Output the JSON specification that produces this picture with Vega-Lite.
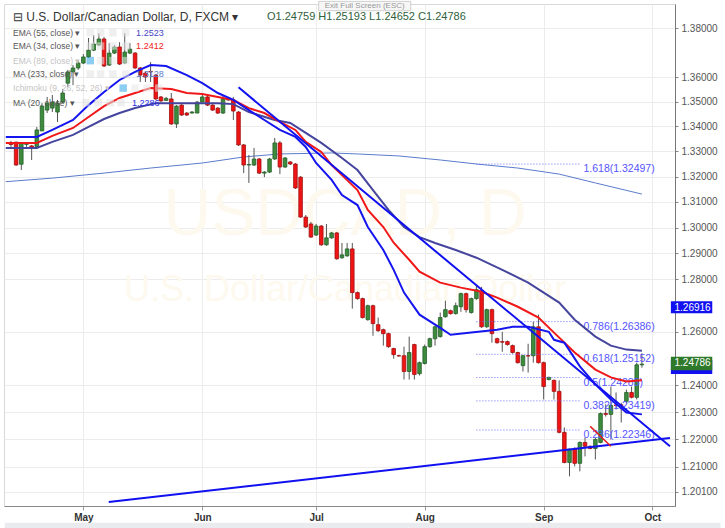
{
"$schema": "https://vega.github.io/schema/vega-lite/v6.json",
"width": 671, "height": 502,
"autosize": {"type": "none"},
"padding": {"left": 4, "top": 4, "right": 50, "bottom": 22},
"background": "#ffffff",
"config": {"view": {"stroke": "#d8d8d8"}, "font": "Liberation Sans"},
"datasets": {
"candles": [
{"i":-14,"o":1.3330,"h":1.3342,"l":1.3318,"c":1.3328},
{"i":-13,"o":1.3337,"h":1.3339,"l":1.3243,"c":1.3246},
{"i":-12,"o":1.3249,"h":1.3334,"l":1.3226,"c":1.3333},
{"i":-11,"o":1.3328,"h":1.3338,"l":1.3318,"c":1.3332},
{"i":-10,"o":1.3322,"h":1.3326,"l":1.3266,"c":1.3316},
{"i":-9,"o":1.3319,"h":1.3398,"l":1.3318,"c":1.3386},
{"i":-8,"o":1.3382,"h":1.3494,"l":1.3382,"c":1.3482},
{"i":-7,"o":1.3466,"h":1.3519,"l":1.3454,"c":1.3494},
{"i":-6,"o":1.3474,"h":1.3527,"l":1.3458,"c":1.3498},
{"i":-5,"o":1.3458,"h":1.3507,"l":1.3418,"c":1.3494},
{"i":-4,"o":1.3498,"h":1.3551,"l":1.3494,"c":1.3535},
{"i":-3,"o":1.3575,"h":1.3629,"l":1.3559,"c":1.3621},
{"i":-2,"o":1.3621,"h":1.3649,"l":1.3567,"c":1.3637},
{"i":-1,"o":1.3637,"h":1.3670,"l":1.3629,"c":1.3657},
{"i":0,"o":1.3657,"h":1.3694,"l":1.3653,"c":1.3682},
{"i":1,"o":1.3682,"h":1.3760,"l":1.3678,"c":1.3710},
{"i":2,"o":1.3710,"h":1.3772,"l":1.3706,"c":1.3735},
{"i":3,"o":1.3731,"h":1.3780,"l":1.3727,"c":1.3756},
{"i":4,"o":1.3756,"h":1.3764,"l":1.3641,"c":1.3645},
{"i":5,"o":1.3649,"h":1.3739,"l":1.3645,"c":1.3698},
{"i":6,"o":1.3698,"h":1.3731,"l":1.3694,"c":1.3723},
{"i":7,"o":1.3723,"h":1.3743,"l":1.3649,"c":1.3653},
{"i":8,"o":1.3657,"h":1.3780,"l":1.3653,"c":1.3702},
{"i":9,"o":1.3698,"h":1.3739,"l":1.3694,"c":1.3714},
{"i":10,"o":1.3698,"h":1.3702,"l":1.3633,"c":1.3637},
{"i":11,"o":1.3637,"h":1.3641,"l":1.3580,"c":1.3608},
{"i":12,"o":1.3616,"h":1.3621,"l":1.3580,"c":1.3600},
{"i":13,"o":1.3623,"h":1.3661,"l":1.3580,"c":1.3621},
{"i":14,"o":1.3608,"h":1.3612,"l":1.3507,"c":1.3511},
{"i":15,"o":1.3519,"h":1.3523,"l":1.3498,"c":1.3503},
{"i":16,"o":1.3505,"h":1.3519,"l":1.3503,"c":1.3513},
{"i":17,"o":1.3511,"h":1.3535,"l":1.3406,"c":1.3410},
{"i":18,"o":1.3410,"h":1.3486,"l":1.3394,"c":1.3482},
{"i":19,"o":1.3486,"h":1.3490,"l":1.3442,"c":1.3446},
{"i":20,"o":1.3454,"h":1.3458,"l":1.3442,"c":1.3446},
{"i":21,"o":1.3454,"h":1.3462,"l":1.3452,"c":1.3458},
{"i":22,"o":1.3454,"h":1.3503,"l":1.3454,"c":1.3498},
{"i":23,"o":1.3498,"h":1.3535,"l":1.3496,"c":1.3519},
{"i":24,"o":1.3519,"h":1.3523,"l":1.3482,"c":1.3486},
{"i":25,"o":1.3486,"h":1.3490,"l":1.3462,"c":1.3466},
{"i":26,"o":1.3474,"h":1.3478,"l":1.3450,"c":1.3454},
{"i":27,"o":1.3454,"h":1.3527,"l":1.3450,"c":1.3511},
{"i":28,"o":1.3515,"h":1.3519,"l":1.3503,"c":1.3507},
{"i":29,"o":1.3507,"h":1.3519,"l":1.3426,"c":1.3462},
{"i":30,"o":1.3458,"h":1.3462,"l":1.3322,"c":1.3326},
{"i":31,"o":1.3326,"h":1.3330,"l":1.3214,"c":1.3246},
{"i":32,"o":1.3246,"h":1.3286,"l":1.3175,"c":1.3248},
{"i":33,"o":1.3246,"h":1.3314,"l":1.3242,"c":1.3270},
{"i":34,"o":1.3270,"h":1.3274,"l":1.3210,"c":1.3214},
{"i":35,"o":1.3214,"h":1.3222,"l":1.3198,"c":1.3218},
{"i":36,"o":1.3218,"h":1.3274,"l":1.3214,"c":1.3270},
{"i":37,"o":1.3270,"h":1.3354,"l":1.3266,"c":1.3334},
{"i":38,"o":1.3334,"h":1.3342,"l":1.3210,"c":1.3238},
{"i":39,"o":1.3238,"h":1.3278,"l":1.3234,"c":1.3274},
{"i":40,"o":1.3258,"h":1.3262,"l":1.3246,"c":1.3250},
{"i":41,"o":1.3250,"h":1.3254,"l":1.3151,"c":1.3155},
{"i":42,"o":1.3198,"h":1.3202,"l":1.3038,"c":1.3041},
{"i":43,"o":1.3041,"h":1.3049,"l":1.2999,"c":1.3002},
{"i":44,"o":1.3014,"h":1.3022,"l":1.2960,"c":1.2963},
{"i":45,"o":1.2971,"h":1.3014,"l":1.2967,"c":1.3006},
{"i":46,"o":1.3006,"h":1.3010,"l":1.2929,"c":1.2933},
{"i":47,"o":1.2933,"h":1.3014,"l":1.2929,"c":1.2960},
{"i":48,"o":1.2960,"h":1.2983,"l":1.2956,"c":1.2979},
{"i":49,"o":1.2979,"h":1.2983,"l":1.2875,"c":1.2879},
{"i":50,"o":1.2883,"h":1.2940,"l":1.2879,"c":1.2894},
{"i":51,"o":1.2890,"h":1.2940,"l":1.2887,"c":1.2917},
{"i":52,"o":1.2917,"h":1.2940,"l":1.2688,"c":1.2749},
{"i":53,"o":1.2749,"h":1.2753,"l":1.2722,"c":1.2726},
{"i":54,"o":1.2726,"h":1.2730,"l":1.2650,"c":1.2654},
{"i":55,"o":1.2646,"h":1.2703,"l":1.2642,"c":1.2699},
{"i":56,"o":1.2699,"h":1.2703,"l":1.2585,"c":1.2631},
{"i":57,"o":1.2627,"h":1.2654,"l":1.2600,"c":1.2604},
{"i":58,"o":1.2608,"h":1.2612,"l":1.2548,"c":1.2593},
{"i":59,"o":1.2593,"h":1.2597,"l":1.2540,"c":1.2544},
{"i":60,"o":1.2537,"h":1.2540,"l":1.2499,"c":1.2514},
{"i":61,"o":1.2510,"h":1.2514,"l":1.2507,"c":1.2509},
{"i":62,"o":1.2510,"h":1.2544,"l":1.2421,"c":1.2451},
{"i":63,"o":1.2451,"h":1.2582,"l":1.2421,"c":1.2522},
{"i":64,"o":1.2552,"h":1.2555,"l":1.2421,"c":1.2440},
{"i":65,"o":1.2443,"h":1.2488,"l":1.2436,"c":1.2484},
{"i":66,"o":1.2481,"h":1.2552,"l":1.2477,"c":1.2544},
{"i":67,"o":1.2544,"h":1.2578,"l":1.2540,"c":1.2574},
{"i":68,"o":1.2574,"h":1.2623,"l":1.2548,"c":1.2619},
{"i":69,"o":1.2582,"h":1.2673,"l":1.2578,"c":1.2654},
{"i":70,"o":1.2657,"h":1.2718,"l":1.2654,"c":1.2684},
{"i":71,"o":1.2680,"h":1.2684,"l":1.2665,"c":1.2669},
{"i":72,"o":1.2669,"h":1.2711,"l":1.2665,"c":1.2699},
{"i":73,"o":1.2695,"h":1.2749,"l":1.2676,"c":1.2745},
{"i":74,"o":1.2745,"h":1.2749,"l":1.2673,"c":1.2684},
{"i":75,"o":1.2673,"h":1.2730,"l":1.2669,"c":1.2726},
{"i":76,"o":1.2726,"h":1.2779,"l":1.2722,"c":1.2760},
{"i":77,"o":1.2756,"h":1.2771,"l":1.2615,"c":1.2619},
{"i":78,"o":1.2619,"h":1.2688,"l":1.2615,"c":1.2684},
{"i":79,"o":1.2684,"h":1.2688,"l":1.2559,"c":1.2593},
{"i":80,"o":1.2574,"h":1.2578,"l":1.2555,"c":1.2559},
{"i":81,"o":1.2563,"h":1.2600,"l":1.2525,"c":1.2561},
{"i":82,"o":1.2563,"h":1.2567,"l":1.2548,"c":1.2552},
{"i":83,"o":1.2548,"h":1.2552,"l":1.2518,"c":1.2522},
{"i":84,"o":1.2522,"h":1.2525,"l":1.2481,"c":1.2484},
{"i":85,"o":1.2473,"h":1.2514,"l":1.2451,"c":1.2510},
{"i":86,"o":1.2510,"h":1.2555,"l":1.2447,"c":1.2509},
{"i":87,"o":1.2510,"h":1.2638,"l":1.2484,"c":1.2619},
{"i":88,"o":1.2619,"h":1.2665,"l":1.2481,"c":1.2484},
{"i":89,"o":1.2484,"h":1.2488,"l":1.2347,"c":1.2395},
{"i":90,"o":1.2421,"h":1.2432,"l":1.2418,"c":1.2429},
{"i":91,"o":1.2418,"h":1.2421,"l":1.2347,"c":1.2377},
{"i":92,"o":1.2377,"h":1.2418,"l":1.2222,"c":1.2226},
{"i":93,"o":1.2226,"h":1.2244,"l":1.2113,"c":1.2116},
{"i":94,"o":1.2116,"h":1.2167,"l":1.2066,"c":1.2164},
{"i":95,"o":1.2167,"h":1.2171,"l":1.2102,"c":1.2113},
{"i":96,"o":1.2113,"h":1.2193,"l":1.2084,"c":1.2189},
{"i":97,"o":1.2189,"h":1.2207,"l":1.2138,"c":1.2175},
{"i":98,"o":1.2175,"h":1.2178,"l":1.2164,"c":1.2167},
{"i":99,"o":1.2167,"h":1.2207,"l":1.2127,"c":1.2200},
{"i":100,"o":1.2189,"h":1.2299,"l":1.2186,"c":1.2295},
{"i":101,"o":1.2295,"h":1.2329,"l":1.2284,"c":1.2292},
{"i":102,"o":1.2292,"h":1.2395,"l":1.2200,"c":1.2325},
{"i":103,"o":1.2327,"h":1.2373,"l":1.2310,"c":1.2325},
{"i":104,"o":1.2327,"h":1.2335,"l":1.2262,"c":1.2325},
{"i":105,"o":1.2340,"h":1.2384,"l":1.2332,"c":1.2373},
{"i":106,"o":1.2373,"h":1.2395,"l":1.2351,"c":1.2355},
{"i":107,"o":1.2355,"h":1.2484,"l":1.2347,"c":1.2476},
{"i":108,"o":1.24759,"h":1.25193,"l":1.24652,"c":1.24786}
],
"ind": [
{"s":"ma233","i":-15,"p":1.3180},{"s":"ma233","i":-6,"p":1.3194},{"s":"ma233","i":4,"p":1.3214},{"s":"ma233","i":13,"p":1.3234},{"s":"ma233","i":23,"p":1.3254},{"s":"ma233","i":31,"p":1.3278},{"s":"ma233","i":38,"p":1.3290},{"s":"ma233","i":48,"p":1.3294},{"s":"ma233","i":53,"p":1.3290},{"s":"ma233","i":61,"p":1.3282},{"s":"ma233","i":69,"p":1.3266},{"s":"ma233","i":76,"p":1.3250},{"s":"ma233","i":84,"p":1.3234},{"s":"ma233","i":92,"p":1.3210},{"s":"ma233","i":99,"p":1.3175},{"s":"ma233","i":108,"p":1.3131},
{"s":"ema55","i":-15,"p":1.3314},{"s":"ema55","i":-9,"p":1.3314},{"s":"ema55","i":-6,"p":1.3338},{"s":"ema55","i":-2,"p":1.3366},{"s":"ema55","i":1,"p":1.3398},{"s":"ema55","i":4,"p":1.3430},{"s":"ema55","i":7,"p":1.3454},{"s":"ema55","i":10,"p":1.3474},{"s":"ema55","i":14,"p":1.3494},{"s":"ema55","i":20,"p":1.3494},{"s":"ema55","i":26,"p":1.3494},{"s":"ema55","i":29,"p":1.3490},{"s":"ema55","i":32,"p":1.3458},{"s":"ema55","i":37,"p":1.3426},{"s":"ema55","i":40,"p":1.3414},{"s":"ema55","i":43,"p":1.3374},{"s":"ema55","i":46,"p":1.3334},{"s":"ema55","i":50,"p":1.3274},{"s":"ema55","i":53,"p":1.3226},{"s":"ema55","i":56,"p":1.3147},{"s":"ema55","i":59,"p":1.3069},{"s":"ema55","i":62,"p":1.3002},{"s":"ema55","i":65,"p":1.2963},{"s":"ema55","i":68,"p":1.2940},{"s":"ema55","i":72,"p":1.2913},{"s":"ema55","i":76,"p":1.2883},{"s":"ema55","i":81,"p":1.2836},{"s":"ema55","i":86,"p":1.2787},{"s":"ema55","i":92,"p":1.2711},{"s":"ema55","i":95,"p":1.2646},{"s":"ema55","i":99,"p":1.2582},{"s":"ema55","i":102,"p":1.2548},{"s":"ema55","i":105,"p":1.2533},{"s":"ema55","i":108,"p":1.2529},
{"s":"ema34","i":-15,"p":1.3334},{"s":"ema34","i":-9,"p":1.3334},{"s":"ema34","i":-6,"p":1.3362},{"s":"ema34","i":-2,"p":1.3394},{"s":"ema34","i":1,"p":1.3438},{"s":"ema34","i":4,"p":1.3482},{"s":"ema34","i":7,"p":1.3515},{"s":"ema34","i":10,"p":1.3535},{"s":"ema34","i":13,"p":1.3555},{"s":"ema34","i":17,"p":1.3551},{"s":"ema34","i":20,"p":1.3535},{"s":"ema34","i":23,"p":1.3531},{"s":"ema34","i":26,"p":1.3519},{"s":"ema34","i":29,"p":1.3507},{"s":"ema34","i":32,"p":1.3474},{"s":"ema34","i":35,"p":1.3454},{"s":"ema34","i":38,"p":1.3418},{"s":"ema34","i":41,"p":1.3386},{"s":"ema34","i":43,"p":1.3338},{"s":"ema34","i":46,"p":1.3298},{"s":"ema34","i":48,"p":1.3246},{"s":"ema34","i":50,"p":1.3206},{"s":"ema34","i":53,"p":1.3147},{"s":"ema34","i":55,"p":1.3069},{"s":"ema34","i":58,"p":1.3002},{"s":"ema34","i":60,"p":1.2941},{"s":"ema34","i":63,"p":1.2875},{"s":"ema34","i":65,"p":1.2829},{"s":"ema34","i":69,"p":1.2787},{"s":"ema34","i":73,"p":1.2768},{"s":"ema34","i":77,"p":1.2752},{"s":"ema34","i":80,"p":1.2730},{"s":"ema34","i":84,"p":1.2695},{"s":"ema34","i":88,"p":1.2654},{"s":"ema34","i":91,"p":1.2597},{"s":"ema34","i":95,"p":1.2522},{"s":"ema34","i":99,"p":1.2458},{"s":"ema34","i":102,"p":1.2429},{"s":"ema34","i":105,"p":1.2414},{"s":"ema34","i":108,"p":1.2418},
{"s":"ma20","i":-15,"p":1.3358},{"s":"ma20","i":-9,"p":1.3358},{"s":"ma20","i":-6,"p":1.3386},{"s":"ma20","i":-2,"p":1.3426},{"s":"ma20","i":1,"p":1.3486},{"s":"ma20","i":4,"p":1.3539},{"s":"ma20","i":7,"p":1.3588},{"s":"ma20","i":10,"p":1.3621},{"s":"ma20","i":13,"p":1.3649},{"s":"ma20","i":16,"p":1.3645},{"s":"ma20","i":20,"p":1.3608},{"s":"ma20","i":23,"p":1.3575},{"s":"ma20","i":26,"p":1.3535},{"s":"ma20","i":29,"p":1.3507},{"s":"ma20","i":32,"p":1.3466},{"s":"ma20","i":35,"p":1.3426},{"s":"ma20","i":38,"p":1.3386},{"s":"ma20","i":41,"p":1.3358},{"s":"ma20","i":43,"p":1.3318},{"s":"ma20","i":45,"p":1.3254},{"s":"ma20","i":48,"p":1.3187},{"s":"ma20","i":50,"p":1.3127},{"s":"ma20","i":53,"p":1.3088},{"s":"ma20","i":55,"p":1.3002},{"s":"ma20","i":58,"p":1.2913},{"s":"ma20","i":60,"p":1.2836},{"s":"ma20","i":62,"p":1.2749},{"s":"ma20","i":65,"p":1.2665},{"s":"ma20","i":69,"p":1.2615},{"s":"ma20","i":71,"p":1.2589},{"s":"ma20","i":75,"p":1.2597},{"s":"ma20","i":80,"p":1.2608},{"s":"ma20","i":83,"p":1.2619},{"s":"ma20","i":86,"p":1.2619},{"s":"ma20","i":90,"p":1.2600},{"s":"ma20","i":91,"p":1.2570},{"s":"ma20","i":93,"p":1.2559},{"s":"ma20","i":96,"p":1.2470},{"s":"ma20","i":99,"p":1.2403},{"s":"ma20","i":102,"p":1.2347},{"s":"ma20","i":105,"p":1.2299},{"s":"ma20","i":108,"p":1.2292}
],
"trend": [
{"t":"down","i":30,"p":1.3558},{"t":"down","i":113.43,"p":1.2175},
{"t":"up","i":4.9,"p":1.1973},{"t":"up","i":113.43,"p":1.2205},
{"t":"red","i":98,"p":1.2248},{"t":"red","i":102,"p":1.2175}
],
"fib": [
{"lbl":"1.618(1.32497)","p":1.32497},
{"lbl":"0.786(1.26386)","p":1.26386},
{"lbl":"0.618(1.25152)","p":1.25152},
{"lbl":"0.5(1.24285)","p":1.24285},
{"lbl":"0.382(1.23419)","p":1.23419},
{"lbl":"0.236(1.22346)","p":1.22346}
],
"legend": [
{"t":"EMA (55, close) ▾","p":1.3782,"c":"#555555"},
{"t":"EMA (34, close) ▾","p":1.3727,"c":"#555555"},
{"t":"EMA (89, close) ▾","p":1.3667,"c":"#c4c4c4"},
{"t":"MA (233, close) ▾","p":1.3612,"c":"#555555"},
{"t":"Ichimoku (9, 26, 52, 26) ▾","p":1.3555,"c":"#c4c4c4"},
{"t":"MA (20, close) ▾","p":1.3496,"c":"#555555"}
],
"icons": [
{"i":1.33,"p":1.3782,"c":"#e2e2e2"},{"i":3.33,"p":1.3782,"c":"#e2e2e2"},{"i":5.71,"p":1.3782,"c":"#e2e2e2"},{"i":8.19,"p":1.3782,"c":"#e2e2e2"},
{"i":1.33,"p":1.3727,"c":"#e2e2e2"},{"i":3.33,"p":1.3727,"c":"#e2e2e2"},{"i":5.71,"p":1.3727,"c":"#e2e2e2"},{"i":8.19,"p":1.3727,"c":"#e2e2e2"},
{"i":1.33,"p":1.3667,"c":"#2fa4e7"},{"i":3.33,"p":1.3667,"c":"#e8e8e8"},{"i":5.71,"p":1.3667,"c":"#e8e8e8"},{"i":8.19,"p":1.3667,"c":"#e8e8e8"},
{"i":1.33,"p":1.3612,"c":"#e2e2e2"},{"i":3.33,"p":1.3612,"c":"#e2e2e2"},{"i":5.71,"p":1.3612,"c":"#e2e2e2"},{"i":8.19,"p":1.3612,"c":"#e2e2e2"},
{"i":7.7,"p":1.3555,"c":"#2fa4e7"},{"i":10.0,"p":1.3555,"c":"#e8e8e8"},{"i":12.3,"p":1.3555,"c":"#e8e8e8"},{"i":14.6,"p":1.3555,"c":"#e8e8e8"},
{"i":0.5,"p":1.3496,"c":"#e2e2e2"},{"i":2.9,"p":1.3496,"c":"#e2e2e2"},{"i":5.2,"p":1.3496,"c":"#e2e2e2"},{"i":7.3,"p":1.3496,"c":"#e2e2e2"}
],
"vals": [
{"t":"1.2523","i":10.2,"p":1.3782,"c":"#4646c8"},
{"t":"1.2412","i":10.2,"p":1.3727,"c":"#f01818"},
{"t":"1.3128","i":10.2,"p":1.3612,"c":"#5b7ccc"},
{"t":"1.2286","i":9.4,"p":1.3496,"c":"#2a2ae0"}
]
},
"encoding": {
"x": {"type": "quantitative", "scale": {"domain": [-14.38, 113.43], "nice": false, "zero": false},
  "axis": {"title": null, "values": [0, 23, 45, 66, 89, 110], "grid": true, "gridColor": "#ececec",
    "labelExpr": "datum.value == 0 ? 'May' : datum.value == 23 ? 'Jun' : datum.value == 45 ? 'Jul' : datum.value == 66 ? 'Aug' : datum.value == 89 ? 'Sep' : 'Oct'",
    "labelFontSize": 10, "labelFontWeight": "bold", "labelColor": "#333333", "tickSize": 4, "tickColor": "#999999", "domainColor": "#888888", "labelPadding": 2}},
"y": {"type": "quantitative", "scale": {"type": "log", "domain": [1.1959, 1.3901], "nice": false, "zero": false},
  "axis": {"title": null, "orient": "right", "values": [1.38, 1.36, 1.35, 1.34, 1.33, 1.32, 1.31, 1.30, 1.29, 1.28, 1.26, 1.24, 1.23, 1.22, 1.21, 1.201],
    "format": ".5f", "grid": true, "gridColor": "#ececec", "labelFontSize": 10, "labelColor": "#555555", "tickSize": 3, "tickColor": "#888888", "domainColor": "#777777", "labelPadding": 3}}
},
"layer": [
{"data": {"values": [{"a":-15.2,"b":123.2,"p1":1.1899,"p2":1.1870}]},
 "mark": {"type": "rect", "clip": false, "fill": "#e9ebee"},
 "encoding": {"x": {"field": "a", "type": "quantitative"}, "x2": {"field": "b"}, "y": {"field": "p1", "type": "quantitative"}, "y2": {"field": "p2"}}},
{"data": {"values": [{"t":"USDCAD, D","i":50.6,"p":1.3049,"s":66},{"t":"U.S. Dollar/Canadian Dollar","i":50.6,"p":1.2760,"s":36}]},
 "mark": {"type": "text", "color": "#fdf9ef", "font": "Liberation Sans"},
 "encoding": {"x": {"field": "i", "type": "quantitative"}, "y": {"field": "p", "type": "quantitative"}, "text": {"field": "t"}, "size": {"field": "s", "type": "quantitative", "scale": null}}},
{"data": {"name": "ind"}, "transform": [{"filter": "datum.s == 'ma233'"}],
 "mark": {"type": "line", "clip": true, "color": "#5b7ccc", "strokeWidth": 1},
 "encoding": {"x": {"field": "i", "type": "quantitative"}, "y": {"field": "p", "type": "quantitative"}}},
{"data": {"name": "candles"},
 "mark": {"type": "rule", "color": "#555555", "strokeWidth": 1},
 "encoding": {"x": {"field": "i", "type": "quantitative"}, "y": {"field": "l", "type": "quantitative"}, "y2": {"field": "h"}}},
{"data": {"name": "candles"},
 "mark": {"type": "bar", "size": 3.6, "strokeWidth": 0.8},
 "encoding": {"x": {"field": "i", "type": "quantitative"}, "y": {"field": "o", "type": "quantitative"}, "y2": {"field": "c"},
   "fill": {"condition": {"test": "datum.c >= datum.o", "value": "#3d8b3d"}, "value": "#f01414"},
   "stroke": {"condition": {"test": "datum.c >= datum.o", "value": "#25602a"}, "value": "#a01010"}}},
{"mark": {"type": "rule", "color": "#2020f0", "strokeWidth": 1.2}, "encoding": {"y": {"datum": 1.26916}}},
{"mark": {"type": "rule", "color": "#1010f0", "strokeWidth": 2}, "encoding": {"y": {"datum": 1.24786}}},
{"data": {"name": "fib"},
 "mark": {"type": "rule", "color": "#6a6aff", "strokeWidth": 1, "strokeDash": [1, 2]},
 "encoding": {"x": {"datum": 76}, "x2": {"datum": 96}, "y": {"field": "p", "type": "quantitative"}}},
{"data": {"name": "fib"},
 "mark": {"type": "text", "align": "left", "baseline": "top", "dy": 0, "fontSize": 10.5, "color": "#5555ff"},
 "encoding": {"x": {"datum": 96.7}, "y": {"field": "p", "type": "quantitative"}, "text": {"field": "lbl"}}},
{"data": {"name": "ind"}, "transform": [{"filter": "datum.s != 'ma233'"}],
 "mark": {"type": "line", "clip": true, "strokeWidth": 2},
 "encoding": {"x": {"field": "i", "type": "quantitative"}, "y": {"field": "p", "type": "quantitative"},
   "color": {"field": "s", "type": "nominal", "scale": {"domain": ["ema55", "ema34", "ma20"], "range": ["#45459e", "#f01818", "#1515f0"]}, "legend": null}}},
{"data": {"name": "trend"}, "transform": [{"filter": "datum.t != 'red'"}],
 "mark": {"type": "line", "clip": true, "color": "#1010f0", "strokeWidth": 2},
 "encoding": {"x": {"field": "i", "type": "quantitative"}, "y": {"field": "p", "type": "quantitative"}, "detail": {"field": "t"}}},
{"data": {"name": "trend"}, "transform": [{"filter": "datum.t == 'red'"}],
 "mark": {"type": "line", "clip": true, "color": "#e02020", "strokeWidth": 1.5},
 "encoding": {"x": {"field": "i", "type": "quantitative"}, "y": {"field": "p", "type": "quantitative"}}},
{"data": {"values": [{"t":"⊟ U.S. Dollar/Canadian Dollar, D, FXCM ▾","i":-13.6,"p":1.3847}]},
 "mark": {"type": "text", "align": "left", "baseline": "middle", "fontSize": 12, "color": "#333333", "font": "Liberation Sans"},
 "encoding": {"x": {"field": "i", "type": "quantitative"}, "y": {"field": "p", "type": "quantitative"}, "text": {"field": "t"}}},
{"data": {"values": [{"t":"O1.24759  H1.25193  L1.24652  C1.24786","i":35.5,"p":1.3847}]},
 "mark": {"type": "text", "align": "left", "baseline": "middle", "fontSize": 11, "color": "#2f5f3c", "font": "Liberation Sans"},
 "encoding": {"x": {"field": "i", "type": "quantitative"}, "y": {"field": "p", "type": "quantitative"}, "text": {"field": "t"}}},
{"data": {"values": [{"a":45.5,"b":63.3,"p1":1.3912,"p2":1.3873}]},
 "mark": {"type": "rect", "clip": false, "fill": "#f6f6f6", "stroke": "#d0d0d0", "strokeWidth": 1},
 "encoding": {"x": {"field": "a", "type": "quantitative"}, "x2": {"field": "b"}, "y": {"field": "p1", "type": "quantitative"}, "y2": {"field": "p2"}}},
{"data": {"values": [{"t":"Exit Full Screen (ESC)","i":54.4,"p":1.3894}]},
 "mark": {"type": "text", "align": "center", "baseline": "middle", "fontSize": 8, "color": "#999999", "clip": false},
 "encoding": {"x": {"field": "i", "type": "quantitative"}, "y": {"field": "p", "type": "quantitative"}, "text": {"field": "t"}}},
{"data": {"name": "icons"},
 "mark": {"type": "square", "size": 56, "opacity": 0.55},
 "encoding": {"x": {"field": "i", "type": "quantitative"}, "y": {"field": "p", "type": "quantitative"}, "color": {"field": "c", "type": "nominal", "scale": null}}},
{"data": {"name": "legend"},
 "mark": {"type": "text", "align": "left", "baseline": "middle", "fontSize": 8.5},
 "encoding": {"x": {"datum": -13.6}, "y": {"field": "p", "type": "quantitative"}, "text": {"field": "t"}, "color": {"field": "c", "type": "nominal", "scale": null}}},
{"data": {"name": "vals"},
 "mark": {"type": "text", "align": "left", "baseline": "middle", "fontSize": 9},
 "encoding": {"x": {"field": "i", "type": "quantitative"}, "y": {"field": "p", "type": "quantitative"}, "text": {"field": "t"}, "color": {"field": "c", "type": "nominal", "scale": null}}},
{"data": {"values": [{"a":113.6,"b":121.6,"p1":1.2716,"p2":1.2670,"c":"#1010f0"},{"a":113.6,"b":121.6,"p1":1.2494,"p2":1.2442,"c":"#1010f0"},{"a":113.6,"b":121.6,"p1":1.2506,"p2":1.2456,"c":"#2f7a2a"}]},
 "mark": {"type": "rect", "clip": false},
 "encoding": {"x": {"field": "a", "type": "quantitative"}, "x2": {"field": "b"}, "y": {"field": "p1", "type": "quantitative"}, "y2": {"field": "p2"}, "fill": {"field": "c", "type": "nominal", "scale": null}}},
{"data": {"values": [{"t":"1.26916","i":114.3,"p":1.26916},{"t":"1.24786","i":114.3,"p":1.2481}]},
 "mark": {"type": "text", "align": "left", "baseline": "middle", "fontSize": 10, "color": "#ffffff", "clip": false},
 "encoding": {"x": {"field": "i", "type": "quantitative"}, "y": {"field": "p", "type": "quantitative"}, "text": {"field": "t"}}}
]
}
